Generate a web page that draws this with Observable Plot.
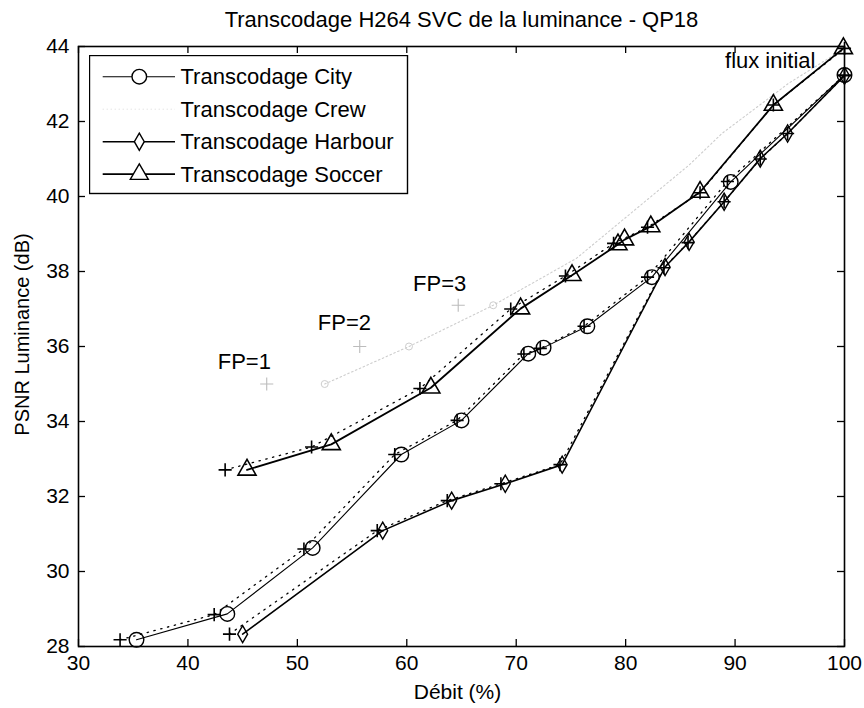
<!DOCTYPE html>
<html>
<head>
<meta charset="utf-8">
<script src="https://cdn.jsdelivr.net/npm/d3@7"></script>
<script src="https://cdn.jsdelivr.net/npm/@observablehq/plot@0.6"></script>
<style>
  body { margin: 0; background: #fff; }
  #wrap { position: relative; width: 864px; height: 708px; background: #fff; }
  #legend { position: absolute; left: 89px; top: 55px; }
</style>
</head>
<body>
<div id="wrap"></div>
<script>
// ---------------- data ----------------
const TITLE = "Transcodage H264 SVC de la luminance - QP18";
const X_LABEL = "Débit (%)";
const Y_LABEL = "PSNR Luminance (dB)";
const X_TICKS = [30, 40, 50, 60, 70, 80, 90, 100];
const Y_TICKS = [28, 30, 32, 34, 36, 38, 40, 42, 44];

const seriesNames = ["Transcodage City", "Transcodage Crew", "Transcodage Harbour", "Transcodage Soccer"];

const cityX   = [35.3, 43.6, 51.4, 59.5, 65.0, 71.1, 72.5, 76.5, 82.4, 89.6, 100];
const cityY   = [28.18, 28.87, 30.63, 33.12, 34.03, 35.81, 35.97, 36.54, 37.85, 40.39, 43.24];
const cityFpX = [33.8, 42.4, 50.6, 58.9, 64.6, 70.7, 72.2, 76.2, 82.0, 89.3, 100];
const cityFpY = [28.18, 28.85, 30.60, 33.12, 34.03, 35.80, 35.95, 36.54, 37.85, 40.40, 43.24];

const crewX   = [52.5, 60.2, 67.9, 75.5, 85.8, 88.8, 94.9, 100];
const crewY   = [35.0, 36.0, 37.1, 38.35, 40.84, 41.68, 43.02, 43.95];
const crewFpX = [47.2, 55.7, 64.7];
const crewFpY = [35.0, 36.0, 37.1];

const harbourX   = [45.0, 57.8, 64.1, 69.0, 74.2, 83.6, 85.8, 89.0, 92.3, 94.8, 100];
const harbourY   = [28.33, 31.09, 31.89, 32.34, 32.85, 38.12, 38.79, 39.86, 41.01, 41.68, 43.22];
const harbourFpX = [43.8, 57.3, 63.7, 68.6, 74.0, 83.5, 85.7, 89.0, 92.3, 94.8, 100];
const harbourFpY = [28.33, 31.09, 31.89, 32.34, 32.85, 38.10, 38.77, 39.86, 41.00, 41.68, 43.22];

const soccerX   = [45.4, 53.1, 62.2, 70.4, 75.1, 79.3, 79.9, 82.3, 86.8, 93.5, 99.9];
const soccerY   = [32.71, 33.39, 34.90, 37.01, 37.90, 38.72, 38.85, 39.20, 40.12, 42.44, 43.95];
const soccerFpX = [43.4, 51.3, 61.2, 69.5, 74.5, 78.9, 82.0, 86.8, 93.5, 100];
const soccerFpY = [32.71, 33.32, 34.88, 37.00, 37.88, 38.75, 39.18, 40.10, 42.44, 43.95];

const fpLabels = ["FP=1", "FP=2", "FP=3"];
const fpLabelX = [45.15, 54.3, 63.0];
const fpLabelY = [35.59, 36.64, 37.66];

const fluxLabel = ["flux initial"];
const fluxX = [100];
const fluxY = [44];

// ---------------- build ----------------
const pts = (xs, ys) => xs.map((x, i) => ({x, y: ys[i]}));
const city = pts(cityX, cityY), cityFp = pts(cityFpX, cityFpY);
const crew = pts(crewX, crewY), crewFp = pts(crewFpX, crewFpY);
const harbour = pts(harbourX, harbourY), harbourFp = pts(harbourFpX, harbourFpY);
const soccer = pts(soccerX, soccerY), soccerFp = pts(soccerFpX, soccerFpY);

const W = 864, H = 708, ML = 78, MR = 20, MT = 46, MB = 62;
const FW = W - ML - MR, FH = H - MT - MB;
const FONT = '"Liberation Sans", Arial, Helvetica, sans-serif';
const TICK = 7;
const DOT = "1.4,5.6";

const fpLine = d => Plot.line(d, {x: "x", y: "y", stroke: "black", strokeWidth: 1.3, strokeDasharray: DOT});
const plus = d => Plot.dot(d, {x: "x", y: "y", symbol: "plus", r: 4.3, stroke: "black", strokeWidth: 1.6});

const chart = Plot.plot({
  width: W, height: H,
  marginLeft: ML, marginRight: MR, marginTop: MT, marginBottom: MB,
  style: {fontFamily: FONT, fontSize: "21px", color: "black", background: "white", overflow: "visible"},
  x: {domain: [30, 100], ticks: X_TICKS, tickSize: 0, tickPadding: 9, label: null},
  y: {domain: [28, 44], ticks: Y_TICKS, tickSize: 0, tickPadding: 9, label: null},
  marks: [
    // inward ticks on four sides
    Plot.tickX(X_TICKS, {x: d => d, insetTop: FH - TICK, stroke: "black", strokeWidth: 1.3}),
    Plot.tickX(X_TICKS, {x: d => d, insetBottom: FH - TICK, stroke: "black", strokeWidth: 1.3}),
    Plot.tickY(Y_TICKS, {y: d => d, insetRight: FW - TICK, stroke: "black", strokeWidth: 1.3}),
    Plot.tickY(Y_TICKS, {y: d => d, insetLeft: FW - TICK, stroke: "black", strokeWidth: 1.3}),

    // Crew (very light gray)
    Plot.line(crew, {x: "x", y: "y", stroke: "#cdcdcd", strokeWidth: 1.1, strokeDasharray: "1.6,2.6"}),
    Plot.dot(crew.slice(0, 3), {x: "x", y: "y", symbol: "circle", r: 3.5, stroke: "#cdcdcd", strokeWidth: 1}),
    Plot.dot(crewFp, {x: "x", y: "y", symbol: "plus", r: 4.3, stroke: "#bcbcbc", strokeWidth: 1.1}),

    // dotted "+" companion curves
    fpLine(cityFp), fpLine(harbourFp), fpLine(soccerFp),

    // transcodage curves
    Plot.line(city, {x: "x", y: "y", stroke: "black", strokeWidth: 1.1}),
    Plot.line(harbour, {x: "x", y: "y", stroke: "black", strokeWidth: 1.6}),
    Plot.line(soccer, {x: "x", y: "y", stroke: "black", strokeWidth: 1.8}),

    plus(cityFp), plus(harbourFp), plus(soccerFp),

    Plot.dot(city, {x: "x", y: "y", symbol: "circle", r: 7.3, stroke: "black", strokeWidth: 1.4, fill: "none"}),
    Plot.dot(harbour, {x: "x", y: "y", symbol: "diamond", r: 5.2, stroke: "black", strokeWidth: 1.4, fill: "none"}),
    Plot.dot(soccer, {x: "x", y: "y", symbol: "triangle", r: 6.7, stroke: "black", strokeWidth: 1.6, fill: "none"}),

    Plot.frame({stroke: "black", strokeWidth: 1.6}),

    // annotations
    Plot.text(fpLabels, {x: fpLabelX, y: fpLabelY, text: d => d, fontSize: 22, fill: "black"}),
    Plot.text(fluxLabel, {x: fluxX, y: fluxY, text: d => d, textAnchor: "end", dx: -29, dy: 14, fontSize: 22, fill: "black"}),

    // title and axis labels
    Plot.text([TITLE], {frameAnchor: "top", textAnchor: "middle", lineAnchor: "middle", dy: -27, fontSize: 22, fill: "black"}),
    Plot.text([X_LABEL], {frameAnchor: "bottom", textAnchor: "middle", lineAnchor: "middle", dx: -4, dy: 46, fontSize: 21, fill: "black"}),
    Plot.text([Y_LABEL], {frameAnchor: "left", textAnchor: "middle", lineAnchor: "middle", dx: -56, dy: -12, rotate: -90, fontSize: 20, fill: "black"})
  ]
});

const wrap = document.getElementById("wrap");
wrap.appendChild(chart);

// ---------------- legend ----------------
const LW = 319, LH = 139;
const leg = d3.select(wrap).append("svg")
  .attr("id", "legend")
  .attr("width", LW + 1).attr("height", LH + 1)
  .style("font-family", FONT).style("font-size", "22px");
leg.append("rect").attr("x", 0.5).attr("y", 0.5).attr("width", LW - 1).attr("height", LH - 1)
  .attr("fill", "white").attr("stroke", "black").attr("stroke-width", 1.4);

const legendSymbols = [
  {sym: d3.symbolCircle, size: Math.PI * 7.3 * 7.3, stroke: "black", line: {w: 1.1, dash: null}},
  {sym: null, size: 0, stroke: "#dadada", line: {w: 1, dash: "1,3"}},
  {sym: d3.symbolDiamond, size: Math.PI * 5.2 * 5.2, stroke: "black", line: {w: 1.6, dash: null}},
  {sym: d3.symbolTriangle, size: Math.PI * 6.7 * 6.7, stroke: "black", line: {w: 1.8, dash: null}}
];
const rowY = i => 21.7 + i * 32.5;
seriesNames.forEach((name, i) => {
  const s = legendSymbols[i];
  const g = leg.append("g").attr("transform", `translate(0,${rowY(i)})`);
  g.append("line").attr("x1", 13.7).attr("x2", 86).attr("y1", 0).attr("y2", 0)
    .attr("stroke", s.stroke).attr("stroke-width", s.line.w)
    .attr("stroke-dasharray", s.line.dash);
  if (s.sym) {
    g.append("path").attr("transform", "translate(50.3,0)")
      .attr("d", d3.symbol(s.sym, s.size)())
      .attr("fill", "white").attr("stroke", "black").attr("stroke-width", 1.4);
  }
  g.append("text").attr("x", 91.5).attr("y", 0).attr("dy", "0.35em").attr("fill", "black").text(name);
});
</script>
</body>
</html>
